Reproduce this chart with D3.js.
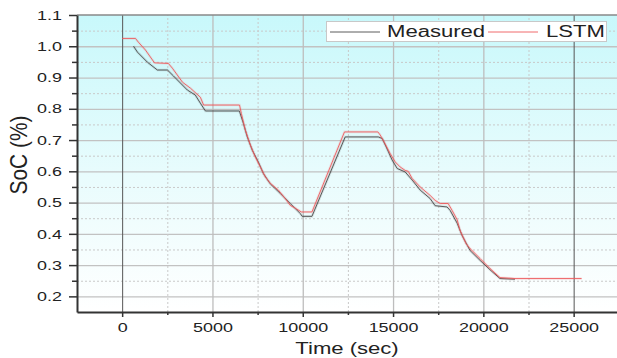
<!DOCTYPE html>
<html>
<head>
<meta charset="utf-8">
<script src="https://cdn.jsdelivr.net/npm/d3@7"></script>
<style>
body { margin: 0; background: #fff; }
text { font-family: 'Liberation Sans', Arial, sans-serif; fill: #222; }
</style>
</head>
<body>
<div id="chart"></div>
<script>
// values
const timeMeasured = [630, 850, 1400, 1950, 2510, 2840, 3610, 4050, 4330, 4610, 6490, 6710, 6930, 7210, 7540, 7820, 8200, 8760, 9310, 9860, 9970, 10510, 12350, 14180, 14400, 14620, 14950, 15230, 15670, 16060, 16500, 17050, 17330, 17990, 18160, 18550, 18820, 19260, 19820, 20370, 20920, 21750];
const socMeasured = [1.0, 0.981, 0.949, 0.924, 0.924, 0.905, 0.86, 0.844, 0.818, 0.793, 0.793, 0.754, 0.71, 0.667, 0.63, 0.593, 0.56, 0.529, 0.497, 0.465, 0.456, 0.456, 0.71, 0.71, 0.705, 0.678, 0.636, 0.609, 0.598, 0.572, 0.54, 0.513, 0.49, 0.486, 0.475, 0.434, 0.395, 0.347, 0.315, 0.285, 0.257, 0.255];
const timeLstm = [0, 740, 900, 1290, 1790, 2560, 2780, 3340, 3780, 4330, 4510, 6500, 6600, 6820, 7100, 7370, 7650, 7930, 8200, 8650, 9030, 9310, 9590, 9920, 10510, 12310, 14160, 14290, 14450, 14840, 15120, 15390, 15670, 15840, 16060, 16500, 17050, 17330, 17610, 18050, 18270, 18550, 18710, 19040, 19260, 19820, 20370, 20920, 21750, 25440];
const socLstm = [1.025, 1.025, 1.013, 0.988, 0.947, 0.945, 0.93, 0.885, 0.866, 0.837, 0.812, 0.812, 0.785, 0.732, 0.684, 0.646, 0.614, 0.582, 0.562, 0.54, 0.513, 0.491, 0.482, 0.47, 0.47, 0.726, 0.726, 0.716, 0.70, 0.657, 0.63, 0.614, 0.603, 0.60, 0.577, 0.55, 0.523, 0.507, 0.497, 0.497, 0.475, 0.445, 0.411, 0.369, 0.353, 0.321, 0.289, 0.26, 0.257, 0.257];

const xTicks = [0, 5000, 10000, 15000, 20000, 25000];
const xMinorTicks = [2500, 7500, 12500, 17500, 22500];
const yTicks = [0.2, 0.3, 0.4, 0.5, 0.6, 0.7, 0.8, 0.9, 1.0, 1.1];
const yMinorTicks = [0.25, 0.35, 0.45, 0.55, 0.65, 0.75, 0.85, 0.95, 1.05];
const seriesNames = ['Measured', 'LSTM'];

const GRAY = '#4a4a4a';
const RED = '#ee5a5c';
const STRETCH = 1.38; // the source image is squeezed wide

const width = 617;
const height = 358;
const margin = { left: 77, right: 0, top: 15, bottom: 46 };

const svg = d3.select('#chart').append('svg')
  .attr('width', width)
  .attr('height', height);

const x = d3.scaleLinear()
  .domain([-2500, 27400])
  .range([margin.left, width - margin.right]);

const y = d3.scaleLinear()
  .domain([0.15, 1.1])
  .range([height - margin.bottom, margin.top]);

const plotW = width - margin.right - margin.left;
const plotH = height - margin.bottom - margin.top;

function stretchedText(parent, px, py, str, size, anchor) {
  return parent.append('text')
    .attr('transform', `translate(${px},${py}) scale(${STRETCH},1)`)
    .attr('text-anchor', anchor)
    .style('font-size', size + 'px')
    .text(str);
}

// background
const grad = svg.append('defs').append('linearGradient')
  .attr('id', 'bg')
  .attr('x1', 0).attr('y1', 0).attr('x2', 0).attr('y2', 1);
grad.append('stop').attr('offset', '0%').attr('stop-color', '#c8f8fb');
grad.append('stop').attr('offset', '55%').attr('stop-color', '#e9fcfd');
grad.append('stop').attr('offset', '100%').attr('stop-color', '#ffffff');

svg.append('rect')
  .attr('x', margin.left)
  .attr('y', margin.top)
  .attr('width', plotW)
  .attr('height', plotH)
  .attr('fill', 'url(#bg)');

function renderGrid() {
  const minorH = svg.append('g')
    .attr('transform', `translate(${margin.left},0)`)
    .call(d3.axisLeft(y).tickValues(yMinorTicks).tickSize(-plotW).tickFormat(''));
  minorH.select('.domain').remove();
  minorH.selectAll('line').attr('stroke', '#c9c9c9').attr('stroke-dasharray', '2,2');

  const majorH = svg.append('g')
    .attr('transform', `translate(${margin.left},0)`)
    .call(d3.axisLeft(y).tickValues(yTicks.slice(0, -1)).tickSize(-plotW).tickFormat(''));
  majorH.select('.domain').remove();
  majorH.selectAll('line').attr('stroke', '#c2c2c2').attr('stroke-width', 1.3);

  const minorV = svg.append('g')
    .attr('transform', `translate(0,${height - margin.bottom})`)
    .call(d3.axisBottom(x).tickValues(xMinorTicks).tickSize(-plotH).tickFormat(''));
  minorV.select('.domain').remove();
  minorV.selectAll('line').attr('stroke', '#c9c9c9').attr('stroke-dasharray', '2,2');

  const majorV = svg.append('g')
    .attr('transform', `translate(0,${height - margin.bottom})`)
    .call(d3.axisBottom(x).tickValues(xTicks).tickSize(-plotH).tickFormat(''));
  majorV.select('.domain').remove();
  majorV.selectAll('line')
    .attr('stroke', d => (d === 0 || d === 25000) ? '#555' : '#bdbdbd')
    .attr('stroke-width', d => (d === 0 || d === 25000) ? 1 : 1.3);
}

function renderSeries(times, values, color) {
  const pts = d3.zip(times, values);
  const line = d3.line()
    .x(d => x(d[0]))
    .y(d => y(d[1]));

  svg.append('path')
    .attr('d', line(pts))
    .attr('fill', 'none')
    .attr('stroke', color)
    .attr('stroke-opacity', 0.14)
    .attr('stroke-width', 2.6);

  svg.append('path')
    .attr('d', line(pts))
    .attr('fill', 'none')
    .attr('stroke', color)
    .attr('stroke-width', 0.9);
}

function renderAxes() {
  // top border
  svg.append('line')
    .attr('x1', margin.left).attr('x2', width - margin.right)
    .attr('y1', margin.top).attr('y2', margin.top)
    .attr('stroke', '#888')
    .attr('stroke-width', 1.5);

  const minorLeft = svg.append('g')
    .attr('transform', `translate(${margin.left},0)`)
    .call(d3.axisLeft(y).tickValues(yMinorTicks).tickSize(5).tickFormat(''));
  minorLeft.select('.domain').remove();
  minorLeft.selectAll('line').attr('stroke', '#333').attr('stroke-width', 1.5);

  const left = svg.append('g')
    .attr('transform', `translate(${margin.left},0)`)
    .call(d3.axisLeft(y).tickValues(yTicks).tickSize(8).tickSizeOuter(0).tickFormat(d3.format('.1f')));
  left.select('.domain').attr('stroke', '#333').attr('stroke-width', 2);
  left.selectAll('line').attr('stroke', '#333').attr('stroke-width', 1.5);
  left.selectAll('text')
    .attr('x', -15 / STRETCH)
    .attr('transform', `scale(${STRETCH},1)`)
    .style('font-size', '13px')
    .attr('fill', '#2a2a2a');

  const minorBottom = svg.append('g')
    .attr('transform', `translate(0,${height - margin.bottom})`)
    .call(d3.axisBottom(x).tickValues(xMinorTicks).tickSize(3).tickFormat(''));
  minorBottom.select('.domain').remove();
  minorBottom.selectAll('line').attr('stroke', '#333').attr('stroke-width', 1.5);

  const bottom = svg.append('g')
    .attr('transform', `translate(0,${height - margin.bottom})`)
    .call(d3.axisBottom(x).tickValues(xTicks).tickSize(5).tickSizeOuter(0).tickPadding(6).tickFormat(d3.format('d')));
  bottom.select('.domain').attr('stroke', '#333').attr('stroke-width', 2);
  bottom.selectAll('line').attr('stroke', '#333').attr('stroke-width', 1.5);
  bottom.selectAll('text')
    .attr('transform', `scale(${STRETCH},1)`)
    .style('font-size', '13px')
    .attr('fill', '#2a2a2a');

  stretchedText(svg, (margin.left + width - margin.right) / 2, 354, 'Time (sec)', 16, 'middle');

  svg.append('text')
    .attr('transform', 'translate(27,155) rotate(-90) scale(1.23,1.38)')
    .attr('text-anchor', 'middle')
    .style('font-size', '17px')
    .text('SoC (%)');
}

function renderLegend() {
  const g = svg.append('g');
  g.append('rect')
    .attr('x', 326.5).attr('y', 21.5)
    .attr('width', 280).attr('height', 20)
    .attr('fill', '#fff')
    .attr('stroke', '#c8c8c8');

  g.append('line')
    .attr('x1', 330).attr('x2', 380).attr('y1', 32).attr('y2', 32)
    .attr('stroke', GRAY).attr('stroke-width', 0.9);
  stretchedText(g, 387, 36.7, seriesNames[0], 16, 'start');

  g.append('line')
    .attr('x1', 488).attr('x2', 538).attr('y1', 32).attr('y2', 32)
    .attr('stroke', RED).attr('stroke-width', 0.9);
  stretchedText(g, 546, 36.7, seriesNames[1], 16, 'start');
}

renderGrid();
renderSeries(timeMeasured, socMeasured, GRAY);
renderSeries(timeLstm, socLstm, RED);
renderAxes();
renderLegend();
</script>
</body>
</html>
